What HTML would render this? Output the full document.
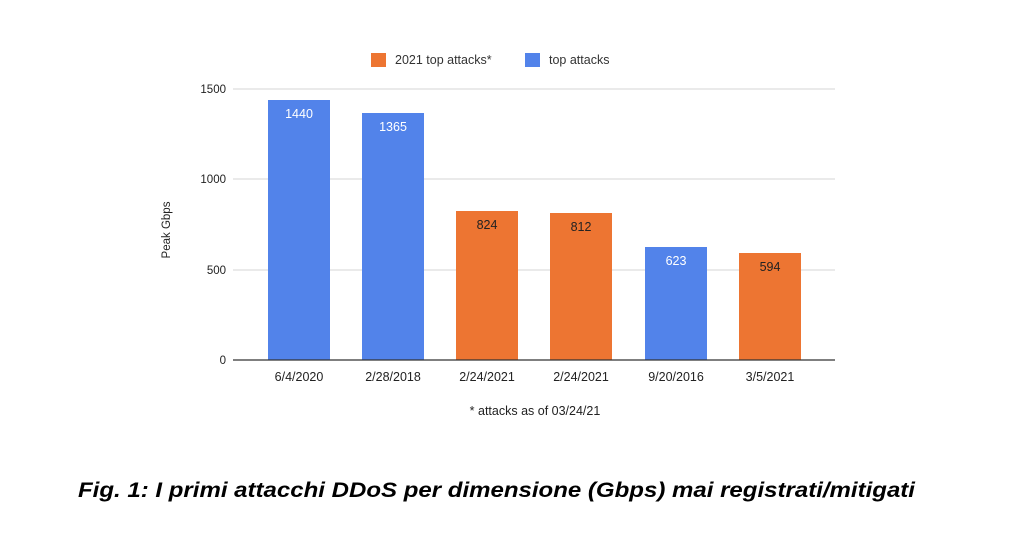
<!DOCTYPE html>
<html><head><style>body{margin:0;background:#fff}svg{display:block}</style></head><body>
<svg width="1028" height="550" xmlns="http://www.w3.org/2000/svg" font-family="Liberation Sans, sans-serif">
<rect width="1028" height="550" fill="#fff"/>
<rect x="371" y="53" width="15" height="14" fill="#ED7532"/>
<text x="395" y="64" font-size="12.5" fill="#333">2021 top attacks*</text>
<rect x="525" y="53" width="15" height="14" fill="#5283EA"/>
<text x="549" y="64" font-size="12.5" fill="#333">top attacks</text>
<g stroke="#ddd" stroke-width="1.3">
<line x1="233" y1="89" x2="835" y2="89"/>
<line x1="233" y1="179" x2="835" y2="179"/>
<line x1="233" y1="270" x2="835" y2="270"/>
</g>
<g font-size="11.5" fill="#222" text-anchor="end">
<text x="226" y="93">1500</text><text x="226" y="183">1000</text><text x="226" y="274">500</text><text x="226" y="364">0</text>
</g>
<text transform="translate(170,230) rotate(-90)" font-size="11.5" fill="#222" text-anchor="middle">Peak Gbps</text>
<rect x="268" y="100" width="62" height="260" fill="#5283EA"/>
<rect x="362" y="113" width="62" height="247" fill="#5283EA"/>
<rect x="456" y="211" width="62" height="149" fill="#ED7532"/>
<rect x="550" y="213" width="62" height="147" fill="#ED7532"/>
<rect x="645" y="247" width="62" height="113" fill="#5283EA"/>
<rect x="739" y="253" width="62" height="107" fill="#ED7532"/>
<line x1="233" y1="360" x2="835" y2="360" stroke="#333" stroke-width="1.3"/>
<g font-size="12.5" text-anchor="middle">
<text x="299" y="118" fill="#fff">1440</text>
<text x="393" y="131" fill="#fff">1365</text>
<text x="487" y="229" fill="#222">824</text>
<text x="581" y="231" fill="#222">812</text>
<text x="676" y="265" fill="#fff">623</text>
<text x="770" y="271" fill="#222">594</text>
</g>
<g font-size="12.5" fill="#222" text-anchor="middle">
<text x="299" y="381">6/4/2020</text><text x="393" y="381">2/28/2018</text><text x="487" y="381">2/24/2021</text>
<text x="581" y="381">2/24/2021</text><text x="676" y="381">9/20/2016</text><text x="770" y="381">3/5/2021</text>
<text x="535" y="415">* attacks as of 03/24/21</text>
</g>
<text x="78" y="497" font-size="21" font-weight="bold" font-style="italic" fill="#000" textLength="837" lengthAdjust="spacingAndGlyphs">Fig. 1: I primi attacchi DDoS per dimensione (Gbps) mai registrati/mitigati</text>
</svg>
</body></html>
